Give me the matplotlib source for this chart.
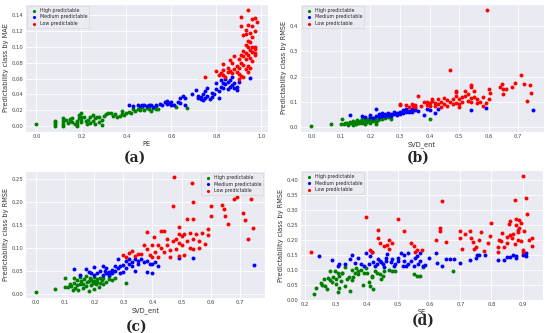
import matplotlib

matplotlib.use("Agg")
import matplotlib.pyplot as plt
import seaborn as sns

# panel (a): PE vs MAE
a_high = [
    (0.0, 0.002), (0.085, 0.000), (0.085, 0.003), (0.085, 0.005), (0.085, 0.007),
    (0.12, 0.000), (0.12, 0.003), (0.12, 0.006), (0.12, 0.010), (0.13, 0.008),
    (0.14, 0.004), (0.15, 0.007), (0.15, 0.009), (0.16, 0.010), (0.16, 0.005),
    (0.17, 0.002), (0.18, 0.000), (0.18, 0.003), (0.18, 0.006), (0.19, 0.014),
    (0.19, 0.010), (0.2, 0.016), (0.2, 0.012), (0.2, 0.008), (0.2, 0.005),
    (0.21, 0.011), (0.22, 0.006), (0.225, 0.002), (0.23, 0.008), (0.24, 0.004),
    (0.24, 0.011), (0.25, 0.007), (0.25, 0.014), (0.26, 0.010), (0.26, 0.002),
    (0.27, 0.012), (0.28, 0.005), (0.28, 0.012), (0.29, 0.001), (0.29, 0.008),
    (0.3, 0.013), (0.31, 0.015), (0.32, 0.016), (0.33, 0.016), (0.34, 0.013),
    (0.35, 0.015), (0.36, 0.011), (0.37, 0.013), (0.38, 0.019), (0.38, 0.015),
    (0.39, 0.014), (0.4, 0.016), (0.41, 0.018), (0.42, 0.016), (0.43, 0.021),
    (0.44, 0.019), (0.45, 0.022), (0.46, 0.020), (0.47, 0.024), (0.48, 0.020),
    (0.49, 0.023), (0.5, 0.021), (0.5, 0.025), (0.51, 0.019), (0.52, 0.023),
    (0.53, 0.021), (0.53, 0.025), (0.54, 0.022), (0.62, 0.024), (0.67, 0.023),
]
a_med = [
    (0.41, 0.026), (0.43, 0.025), (0.45, 0.026), (0.46, 0.025), (0.47, 0.026),
    (0.48, 0.027), (0.49, 0.025), (0.5, 0.026), (0.51, 0.027), (0.52, 0.024),
    (0.53, 0.027), (0.55, 0.028), (0.56, 0.026), (0.57, 0.031), (0.58, 0.028),
    (0.58, 0.032), (0.59, 0.029), (0.6, 0.026), (0.6, 0.030), (0.61, 0.027),
    (0.63, 0.031), (0.64, 0.029), (0.64, 0.035), (0.65, 0.038), (0.66, 0.036),
    (0.66, 0.026), (0.69, 0.040), (0.71, 0.045), (0.72, 0.038), (0.72, 0.035),
    (0.73, 0.034), (0.73, 0.037), (0.74, 0.040), (0.74, 0.033), (0.75, 0.036),
    (0.75, 0.044), (0.76, 0.048), (0.76, 0.038), (0.77, 0.034), (0.78, 0.042),
    (0.78, 0.037), (0.79, 0.040), (0.8, 0.055), (0.8, 0.047), (0.81, 0.036),
    (0.81, 0.044), (0.82, 0.050), (0.82, 0.058), (0.83, 0.048), (0.83, 0.055),
    (0.84, 0.053), (0.84, 0.060), (0.85, 0.047), (0.85, 0.056), (0.86, 0.050),
    (0.86, 0.058), (0.87, 0.052), (0.87, 0.062), (0.88, 0.055), (0.88, 0.048),
    (0.89, 0.050), (0.89, 0.046), (0.9, 0.056), (0.95, 0.061),
]
a_low = [
    (0.75, 0.062), (0.8, 0.069), (0.81, 0.064), (0.82, 0.067), (0.83, 0.071),
    (0.83, 0.078), (0.83, 0.065), (0.84, 0.062), (0.85, 0.068), (0.85, 0.074),
    (0.86, 0.070), (0.86, 0.083), (0.87, 0.067), (0.87, 0.080), (0.88, 0.088),
    (0.88, 0.072), (0.89, 0.068), (0.89, 0.076), (0.9, 0.060), (0.9, 0.085),
    (0.9, 0.073), (0.9, 0.066), (0.91, 0.090), (0.91, 0.138), (0.91, 0.126),
    (0.91, 0.080), (0.91, 0.063), (0.92, 0.115), (0.92, 0.095), (0.92, 0.088),
    (0.92, 0.077), (0.92, 0.062), (0.93, 0.122), (0.93, 0.116), (0.93, 0.103),
    (0.93, 0.092), (0.93, 0.085), (0.93, 0.072), (0.94, 0.147), (0.94, 0.128),
    (0.94, 0.108), (0.94, 0.100), (0.94, 0.090), (0.94, 0.076), (0.94, 0.068),
    (0.95, 0.118), (0.95, 0.106), (0.95, 0.096), (0.95, 0.086), (0.95, 0.073),
    (0.96, 0.135), (0.96, 0.126), (0.96, 0.112), (0.96, 0.100), (0.96, 0.094),
    (0.96, 0.082), (0.97, 0.137), (0.97, 0.120), (0.97, 0.098), (0.97, 0.092),
    (0.97, 0.090), (0.98, 0.132), (0.97, 0.100),
]

# panel (b): SVD_ent vs RMSE
b_high = [
    (0.0, 0.004), (0.065, 0.011), (0.1, 0.013), (0.105, 0.030), (0.11, 0.014),
    (0.115, 0.015), (0.12, 0.018), (0.125, 0.013), (0.125, 0.008), (0.13, 0.020),
    (0.135, 0.015), (0.14, 0.025), (0.14, 0.010), (0.145, 0.018), (0.15, 0.022),
    (0.15, 0.013), (0.155, 0.027), (0.16, 0.020), (0.16, 0.015), (0.165, 0.025),
    (0.17, 0.018), (0.17, 0.030), (0.175, 0.022), (0.18, 0.027), (0.18, 0.013),
    (0.185, 0.032), (0.19, 0.025), (0.19, 0.020), (0.195, 0.030), (0.2, 0.035),
    (0.2, 0.027), (0.2, 0.018), (0.205, 0.032), (0.21, 0.025), (0.21, 0.035),
    (0.215, 0.030), (0.22, 0.022), (0.22, 0.013), (0.225, 0.028), (0.23, 0.033),
    (0.24, 0.030), (0.25, 0.035), (0.26, 0.040), (0.27, 0.030), (0.4, 0.032),
]
b_med = [
    (0.13, 0.046), (0.17, 0.045), (0.18, 0.040), (0.2, 0.048), (0.2, 0.040),
    (0.21, 0.035), (0.22, 0.071), (0.22, 0.045), (0.23, 0.050), (0.23, 0.040),
    (0.24, 0.055), (0.24, 0.045), (0.25, 0.043), (0.25, 0.050), (0.26, 0.048),
    (0.26, 0.055), (0.27, 0.045), (0.27, 0.052), (0.28, 0.050), (0.28, 0.060),
    (0.29, 0.048), (0.29, 0.055), (0.3, 0.050), (0.3, 0.060), (0.31, 0.055),
    (0.31, 0.066), (0.32, 0.060), (0.32, 0.070), (0.33, 0.065), (0.33, 0.058),
    (0.34, 0.070), (0.34, 0.060), (0.35, 0.068), (0.35, 0.075), (0.36, 0.063),
    (0.38, 0.048), (0.39, 0.070), (0.4, 0.068), (0.42, 0.055), (0.43, 0.070),
    (0.54, 0.067), (0.59, 0.075), (0.75, 0.067),
]
b_low = [
    (0.3, 0.086), (0.3, 0.093), (0.32, 0.087), (0.33, 0.080), (0.34, 0.090),
    (0.345, 0.082), (0.35, 0.088), (0.35, 0.078), (0.36, 0.125), (0.37, 0.085),
    (0.38, 0.100), (0.39, 0.100), (0.39, 0.088), (0.4, 0.095), (0.4, 0.082),
    (0.41, 0.105), (0.41, 0.110), (0.42, 0.085), (0.42, 0.095), (0.43, 0.090),
    (0.43, 0.112), (0.44, 0.100), (0.44, 0.080), (0.45, 0.115), (0.45, 0.090),
    (0.46, 0.108), (0.46, 0.085), (0.47, 0.228), (0.47, 0.100), (0.48, 0.110),
    (0.48, 0.090), (0.49, 0.145), (0.49, 0.140), (0.49, 0.125), (0.49, 0.095),
    (0.5, 0.110), (0.5, 0.090), (0.5, 0.080), (0.51, 0.120), (0.51, 0.100),
    (0.52, 0.145), (0.52, 0.125), (0.53, 0.130), (0.53, 0.105), (0.54, 0.165),
    (0.54, 0.160), (0.54, 0.115), (0.54, 0.100), (0.55, 0.145), (0.55, 0.120),
    (0.56, 0.110), (0.56, 0.095), (0.57, 0.100), (0.58, 0.085), (0.58, 0.120),
    (0.59, 0.095), (0.595, 0.465), (0.6, 0.110), (0.6, 0.150), (0.605, 0.135),
    (0.64, 0.160), (0.645, 0.170), (0.65, 0.150), (0.65, 0.130), (0.66, 0.150),
    (0.68, 0.160), (0.69, 0.175), (0.71, 0.207), (0.72, 0.170), (0.73, 0.103),
    (0.74, 0.168), (0.745, 0.137),
]

# panel (c): SVD_ent vs RMSE
c_high = [
    (0.0, 0.003), (0.065, 0.011), (0.1, 0.014), (0.1, 0.033), (0.11, 0.014),
    (0.115, 0.020), (0.12, 0.016), (0.125, 0.008), (0.13, 0.024), (0.13, 0.033),
    (0.135, 0.013), (0.14, 0.030), (0.14, 0.018), (0.145, 0.008), (0.15, 0.022),
    (0.15, 0.036), (0.155, 0.027), (0.16, 0.012), (0.16, 0.020), (0.165, 0.031),
    (0.17, 0.016), (0.17, 0.038), (0.175, 0.025), (0.18, 0.006), (0.18, 0.028),
    (0.185, 0.035), (0.19, 0.018), (0.19, 0.030), (0.195, 0.024), (0.2, 0.036),
    (0.2, 0.010), (0.2, 0.028), (0.205, 0.020), (0.21, 0.032), (0.21, 0.026),
    (0.215, 0.015), (0.22, 0.034), (0.22, 0.024), (0.225, 0.030), (0.23, 0.020),
    (0.23, 0.034), (0.24, 0.025), (0.25, 0.032), (0.25, 0.038), (0.26, 0.030),
    (0.27, 0.035), (0.31, 0.023),
]
c_med = [
    (0.13, 0.053), (0.15, 0.040), (0.17, 0.053), (0.18, 0.048), (0.19, 0.045),
    (0.2, 0.058), (0.2, 0.040), (0.21, 0.045), (0.22, 0.050), (0.23, 0.060),
    (0.23, 0.040), (0.235, 0.050), (0.24, 0.045), (0.24, 0.055), (0.25, 0.048),
    (0.25, 0.040), (0.26, 0.052), (0.26, 0.045), (0.27, 0.060), (0.27, 0.050),
    (0.28, 0.075), (0.28, 0.055), (0.29, 0.045), (0.29, 0.060), (0.3, 0.048),
    (0.3, 0.062), (0.31, 0.055), (0.31, 0.070), (0.32, 0.065), (0.32, 0.075),
    (0.33, 0.068), (0.33, 0.060), (0.34, 0.075), (0.34, 0.050), (0.35, 0.065),
    (0.35, 0.072), (0.36, 0.075), (0.37, 0.068), (0.38, 0.072), (0.38, 0.047),
    (0.39, 0.065), (0.4, 0.046), (0.4, 0.065), (0.41, 0.068), (0.42, 0.060),
    (0.49, 0.078), (0.54, 0.078), (0.75, 0.063),
]
c_low = [
    (0.3, 0.085), (0.31, 0.080), (0.32, 0.088), (0.33, 0.093), (0.34, 0.082),
    (0.35, 0.087), (0.36, 0.087), (0.37, 0.105), (0.38, 0.135), (0.38, 0.098),
    (0.39, 0.085), (0.4, 0.080), (0.4, 0.105), (0.405, 0.124), (0.41, 0.090),
    (0.42, 0.080), (0.42, 0.105), (0.43, 0.137), (0.43, 0.100), (0.44, 0.090),
    (0.44, 0.137), (0.45, 0.120), (0.45, 0.105), (0.46, 0.080), (0.46, 0.095),
    (0.47, 0.115), (0.47, 0.190), (0.475, 0.254), (0.48, 0.098), (0.48, 0.120),
    (0.49, 0.145), (0.49, 0.130), (0.49, 0.110), (0.49, 0.082), (0.5, 0.105),
    (0.5, 0.125), (0.51, 0.085), (0.51, 0.129), (0.52, 0.163), (0.52, 0.115),
    (0.53, 0.100), (0.53, 0.133), (0.535, 0.240), (0.54, 0.200), (0.54, 0.162),
    (0.54, 0.120), (0.54, 0.098), (0.55, 0.130), (0.56, 0.115), (0.56, 0.100),
    (0.57, 0.133), (0.58, 0.108), (0.59, 0.128), (0.59, 0.140), (0.6, 0.190),
    (0.6, 0.168), (0.64, 0.193), (0.645, 0.185), (0.65, 0.170), (0.66, 0.152),
    (0.68, 0.207), (0.69, 0.210), (0.71, 0.175), (0.72, 0.160), (0.73, 0.120),
    (0.74, 0.205), (0.745, 0.142),
]

# panel (d): SE vs RMSE
d_high = [
    (0.23, 0.018), (0.235, 0.038), (0.25, 0.055), (0.255, 0.048), (0.26, 0.067),
    (0.265, 0.045), (0.27, 0.035), (0.275, 0.072), (0.28, 0.095), (0.28, 0.065),
    (0.285, 0.060), (0.29, 0.075), (0.295, 0.095), (0.3, 0.052), (0.3, 0.068),
    (0.305, 0.090), (0.305, 0.025), (0.31, 0.038), (0.31, 0.078), (0.315, 0.062),
    (0.32, 0.090), (0.32, 0.088), (0.33, 0.110), (0.33, 0.045), (0.335, 0.070),
    (0.34, 0.075), (0.345, 0.030), (0.35, 0.065), (0.35, 0.100), (0.355, 0.075),
    (0.36, 0.090), (0.365, 0.105), (0.37, 0.085), (0.37, 0.095), (0.38, 0.100),
    (0.385, 0.050), (0.39, 0.090), (0.395, 0.105), (0.4, 0.088), (0.405, 0.060),
    (0.41, 0.045), (0.415, 0.080), (0.415, 0.075), (0.42, 0.035), (0.425, 0.095),
    (0.43, 0.090), (0.44, 0.085), (0.445, 0.070), (0.45, 0.080), (0.455, 0.095),
    (0.47, 0.098), (0.48, 0.095), (0.49, 0.095), (0.55, 0.085), (0.56, 0.080),
    (0.57, 0.080), (0.58, 0.110), (0.675, 0.095),
]
d_med = [
    (0.245, 0.145), (0.285, 0.133), (0.305, 0.112), (0.31, 0.120), (0.33, 0.120),
    (0.345, 0.135), (0.35, 0.148), (0.36, 0.122), (0.37, 0.138), (0.38, 0.120),
    (0.39, 0.113), (0.395, 0.155), (0.405, 0.118), (0.41, 0.145), (0.415, 0.160),
    (0.42, 0.125), (0.425, 0.112), (0.43, 0.120), (0.435, 0.135), (0.44, 0.128),
    (0.445, 0.125), (0.45, 0.118), (0.455, 0.110), (0.46, 0.140), (0.46, 0.130),
    (0.465, 0.152), (0.475, 0.125), (0.48, 0.135), (0.485, 0.112), (0.49, 0.118),
    (0.5, 0.140), (0.5, 0.128), (0.51, 0.155), (0.515, 0.112), (0.52, 0.150),
    (0.52, 0.128), (0.525, 0.112), (0.53, 0.155), (0.53, 0.120), (0.54, 0.130),
    (0.55, 0.112), (0.555, 0.138), (0.56, 0.145), (0.565, 0.120), (0.57, 0.130),
    (0.57, 0.155), (0.58, 0.112), (0.585, 0.115), (0.6, 0.140), (0.62, 0.155),
    (0.625, 0.122), (0.64, 0.113), (0.655, 0.135), (0.665, 0.135), (0.68, 0.135),
    (0.7, 0.122), (0.73, 0.133), (0.75, 0.140), (0.755, 0.148), (0.76, 0.150),
    (0.78, 0.148), (0.82, 0.133), (0.84, 0.132), (0.85, 0.143), (0.86, 0.143),
    (0.87, 0.148), (0.88, 0.138), (0.88, 0.146), (0.9, 0.150), (0.91, 0.145),
    (0.91, 0.155),
]
d_low = [
    (0.22, 0.160), (0.395, 0.277), (0.41, 0.165), (0.415, 0.160), (0.435, 0.232),
    (0.435, 0.205), (0.44, 0.188), (0.455, 0.178), (0.465, 0.183), (0.47, 0.200),
    (0.47, 0.170), (0.48, 0.190), (0.5, 0.268), (0.52, 0.228), (0.54, 0.188),
    (0.55, 0.180), (0.555, 0.160), (0.56, 0.165), (0.575, 0.165), (0.62, 0.200),
    (0.635, 0.230), (0.635, 0.238), (0.64, 0.330), (0.655, 0.192), (0.7, 0.230),
    (0.7, 0.205), (0.705, 0.170), (0.715, 0.218), (0.73, 0.230), (0.735, 0.205),
    (0.74, 0.193), (0.745, 0.170), (0.75, 0.175), (0.76, 0.198), (0.765, 0.225),
    (0.775, 0.163), (0.79, 0.188), (0.795, 0.212), (0.8, 0.257), (0.82, 0.175),
    (0.82, 0.160), (0.825, 0.200), (0.83, 0.195), (0.835, 0.223), (0.84, 0.175),
    (0.85, 0.190), (0.85, 0.208), (0.855, 0.252), (0.86, 0.262), (0.86, 0.215),
    (0.865, 0.205), (0.87, 0.220), (0.875, 0.185), (0.875, 0.333), (0.88, 0.270),
    (0.88, 0.248), (0.885, 0.200), (0.885, 0.232), (0.885, 0.225), (0.89, 0.265),
    (0.89, 0.240), (0.895, 0.255), (0.895, 0.195), (0.9, 0.413), (0.9, 0.165),
    (0.9, 0.160), (0.905, 0.230), (0.91, 0.340), (0.915, 0.285), (0.92, 0.200),
    (0.93, 0.205), (0.93, 0.180),
]

class_names = ["High predictable", "Medium predictable", "Low predictable"]
class_colors = ["green", "blue", "red"]

panels = [
    ("(a)", [a_high, a_med, a_low], "PE", "Predictability class by MAE",
     [0.0, 0.2, 0.4, 0.6, 0.8, 1.0], [0.00, 0.02, 0.04, 0.06, 0.08, 0.10, 0.12, 0.14],
     "{:.1f}", "{:.2f}", "upper left"),
    ("(b)", [b_high, b_med, b_low], "SVD_ent", "Predictability class by RMSE",
     [0.0, 0.1, 0.2, 0.3, 0.4, 0.5, 0.6, 0.7], [0.0, 0.1, 0.2, 0.3, 0.4],
     "{:.1f}", "{:.1f}", "upper left"),
    ("(c)", [c_high, c_med, c_low], "SVD_ent", "Predictability class by RMSE",
     [0.0, 0.1, 0.2, 0.3, 0.4, 0.5, 0.6, 0.7], [0.00, 0.05, 0.10, 0.15, 0.20, 0.25],
     "{:.1f}", "{:.2f}", "upper right"),
    ("(d)", [d_high, d_med, d_low], "SE", "Predictability class by RMSE",
     [0.2, 0.3, 0.4, 0.5, 0.6, 0.7, 0.8, 0.9],
     [0.00, 0.05, 0.10, 0.15, 0.20, 0.25, 0.30, 0.35, 0.40],
     "{:.1f}", "{:.2f}", "upper left"),
]

rects = [
    [0.046, 0.604, 0.441, 0.384],
    [0.546, 0.604, 0.443, 0.384],
    [0.046, 0.105, 0.436, 0.381],
    [0.546, 0.099, 0.441, 0.390],
]
caption_xy = [(0.245, 0.528), (0.760, 0.528), (0.249, 0.020), (0.769, 0.036)]

sns.set_style("darkgrid")
plt.rcParams["font.family"] = ["DejaVu Sans"]

fig = plt.figure(figsize=(5.5, 3.33), dpi=100)
for (cap, groups, xlab, ylab, xt, yt, xf, yf, loc), rect, cxy in zip(panels, rects, caption_xy):
    ax = fig.add_axes(rect)
    for pts, name, col in zip(groups, class_names, class_colors):
        xs = [p[0] for p in pts]
        ys = [p[1] for p in pts]
        ax.scatter(xs, ys, s=8, color=col, linewidths=0, label=name)
    ax.set_xticks(xt)
    ax.set_xticklabels([xf.format(v) for v in xt])
    ax.set_yticks(yt)
    ax.set_yticklabels([yf.format(v) for v in yt])
    ax.tick_params(labelsize=3.8, colors="#444444", pad=1.5, length=0)
    ax.set_xlabel(xlab, fontsize=4.8, color="#333333", labelpad=1.5)
    ax.set_ylabel(ylab, fontsize=4.8, color="#333333", labelpad=2)
    ax.grid(color="white", linewidth=0.6)
    leg = ax.legend(loc=loc, fontsize=3.4, markerscale=0.8, handletextpad=0.3,
                    borderpad=0.4, labelspacing=0.35, borderaxespad=0.4,
                    frameon=True, framealpha=0.8)
    leg.get_frame().set_linewidth(0.4)
    fig.text(cxy[0], cxy[1], cap, ha="center", va="center", fontsize=10,
             fontweight="bold", family="DejaVu Serif")

fig.savefig("out.png", dpi=100)
plt.close(fig)
